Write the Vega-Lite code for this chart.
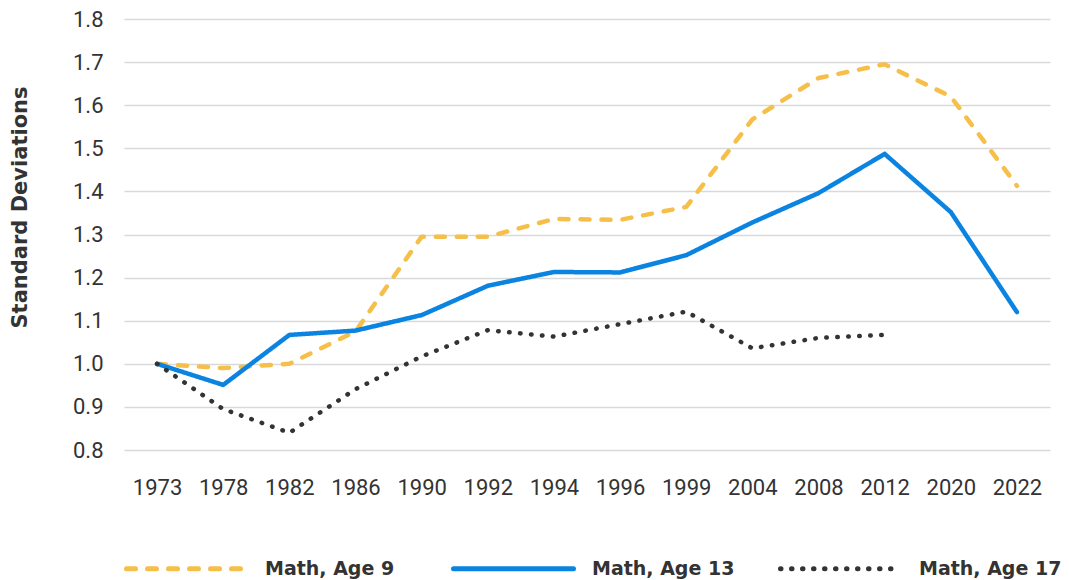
{
  "$schema": "https://vega.github.io/schema/vega-lite/v6.json",
  "width": 926,
  "height": 431,
  "autosize": {"type": "none"},
  "padding": {"left": 124, "top": 19, "right": 19, "bottom": 130},
  "background": "white",
  "config": {
    "view": {"stroke": null},
    "font": "Roboto"
  },
  "data": {
    "values": [
      {"year": "1973", "series": "Math, Age 9", "value": 1.0},
      {"year": "1978", "series": "Math, Age 9", "value": 0.99},
      {"year": "1982", "series": "Math, Age 9", "value": 1.0},
      {"year": "1986", "series": "Math, Age 9", "value": 1.075},
      {"year": "1990", "series": "Math, Age 9", "value": 1.295},
      {"year": "1992", "series": "Math, Age 9", "value": 1.295},
      {"year": "1994", "series": "Math, Age 9", "value": 1.336},
      {"year": "1996", "series": "Math, Age 9", "value": 1.334},
      {"year": "1999", "series": "Math, Age 9", "value": 1.364},
      {"year": "2004", "series": "Math, Age 9", "value": 1.567},
      {"year": "2008", "series": "Math, Age 9", "value": 1.663},
      {"year": "2012", "series": "Math, Age 9", "value": 1.695},
      {"year": "2020", "series": "Math, Age 9", "value": 1.62},
      {"year": "2022", "series": "Math, Age 9", "value": 1.413},
      {"year": "1973", "series": "Math, Age 13", "value": 1.0},
      {"year": "1978", "series": "Math, Age 13", "value": 0.951},
      {"year": "1982", "series": "Math, Age 13", "value": 1.067},
      {"year": "1986", "series": "Math, Age 13", "value": 1.077},
      {"year": "1990", "series": "Math, Age 13", "value": 1.113},
      {"year": "1992", "series": "Math, Age 13", "value": 1.181},
      {"year": "1994", "series": "Math, Age 13", "value": 1.213},
      {"year": "1996", "series": "Math, Age 13", "value": 1.212},
      {"year": "1999", "series": "Math, Age 13", "value": 1.252},
      {"year": "2004", "series": "Math, Age 13", "value": 1.328},
      {"year": "2008", "series": "Math, Age 13", "value": 1.396},
      {"year": "2012", "series": "Math, Age 13", "value": 1.487},
      {"year": "2020", "series": "Math, Age 13", "value": 1.352},
      {"year": "2022", "series": "Math, Age 13", "value": 1.12},
      {"year": "1973", "series": "Math, Age 17", "value": 1.0},
      {"year": "1978", "series": "Math, Age 17", "value": 0.895},
      {"year": "1982", "series": "Math, Age 17", "value": 0.84},
      {"year": "1986", "series": "Math, Age 17", "value": 0.941},
      {"year": "1990", "series": "Math, Age 17", "value": 1.017},
      {"year": "1992", "series": "Math, Age 17", "value": 1.078},
      {"year": "1994", "series": "Math, Age 17", "value": 1.063},
      {"year": "1996", "series": "Math, Age 17", "value": 1.092},
      {"year": "1999", "series": "Math, Age 17", "value": 1.121},
      {"year": "2004", "series": "Math, Age 17", "value": 1.036},
      {"year": "2008", "series": "Math, Age 17", "value": 1.06},
      {"year": "2012", "series": "Math, Age 17", "value": 1.067}
    ]
  },
  "mark": {"type": "line", "strokeWidth": 4.5, "strokeCap": "round", "strokeJoin": "round"},
  "encoding": {
    "x": {
      "field": "year",
      "type": "ordinal",
      "sort": null,
      "scale": {"type": "point", "padding": 0.5},
      "axis": {
        "title": null,
        "labelAngle": 0,
        "labelFontSize": 22,
        "labelColor": "#333333",
        "labelPadding": 27,
        "ticks": false,
        "domain": false,
        "grid": false
      }
    },
    "y": {
      "field": "value",
      "type": "quantitative",
      "scale": {"domain": [0.8, 1.8], "nice": false, "zero": false},
      "axis": {
        "title": "Standard Deviations",
        "titleFont": "DejaVu Sans",
        "titleFontSize": 21,
        "titleFontWeight": "bold",
        "titleColor": "#333333",
        "titleX": -104,
        "titleY": 188,
        "titleAngle": -90,
        "titleAlign": "center",
        "titleBaseline": "middle",
        "values": [0.8, 0.9, 1.0, 1.1, 1.2, 1.3, 1.4, 1.5, 1.6, 1.7, 1.8],
        "format": ".1f",
        "labelFontSize": 22,
        "labelColor": "#333333",
        "labelPadding": 21,
        "ticks": false,
        "domain": false,
        "grid": true,
        "gridColor": "#d9d9d9",
        "gridWidth": 1.5
      }
    },
    "color": {
      "field": "series",
      "type": "nominal",
      "scale": {
        "domain": ["Math, Age 9", "Math, Age 13", "Math, Age 17"],
        "range": ["#F5BF4A", "#0A84E0", "#333333"]
      },
      "legend": {
        "title": null,
        "orient": "none",
        "legendX": 0,
        "legendY": 487,
        "direction": "horizontal",
        "gridAlign": "all",
        "symbolType": "stroke",
        "symbolSize": 14400,
        "symbolStrokeWidth": 5,
        "labelFont": "DejaVu Sans",
        "labelFontSize": 19,
        "labelFontWeight": "bold",
        "labelColor": "#333333",
        "labelOffset": 16,
        "columnPadding": 35,
        "encode": {
          "symbols": {"update": {"strokeCap": {"value": "round"}}}
        }
      }
    },
    "strokeDash": {
      "field": "series",
      "type": "nominal",
      "scale": {
        "domain": ["Math, Age 9", "Math, Age 13", "Math, Age 17"],
        "range": [[9, 12], [1, 0], [0.5, 10.5]]
      },
      "legend": null
    }
  }
}
